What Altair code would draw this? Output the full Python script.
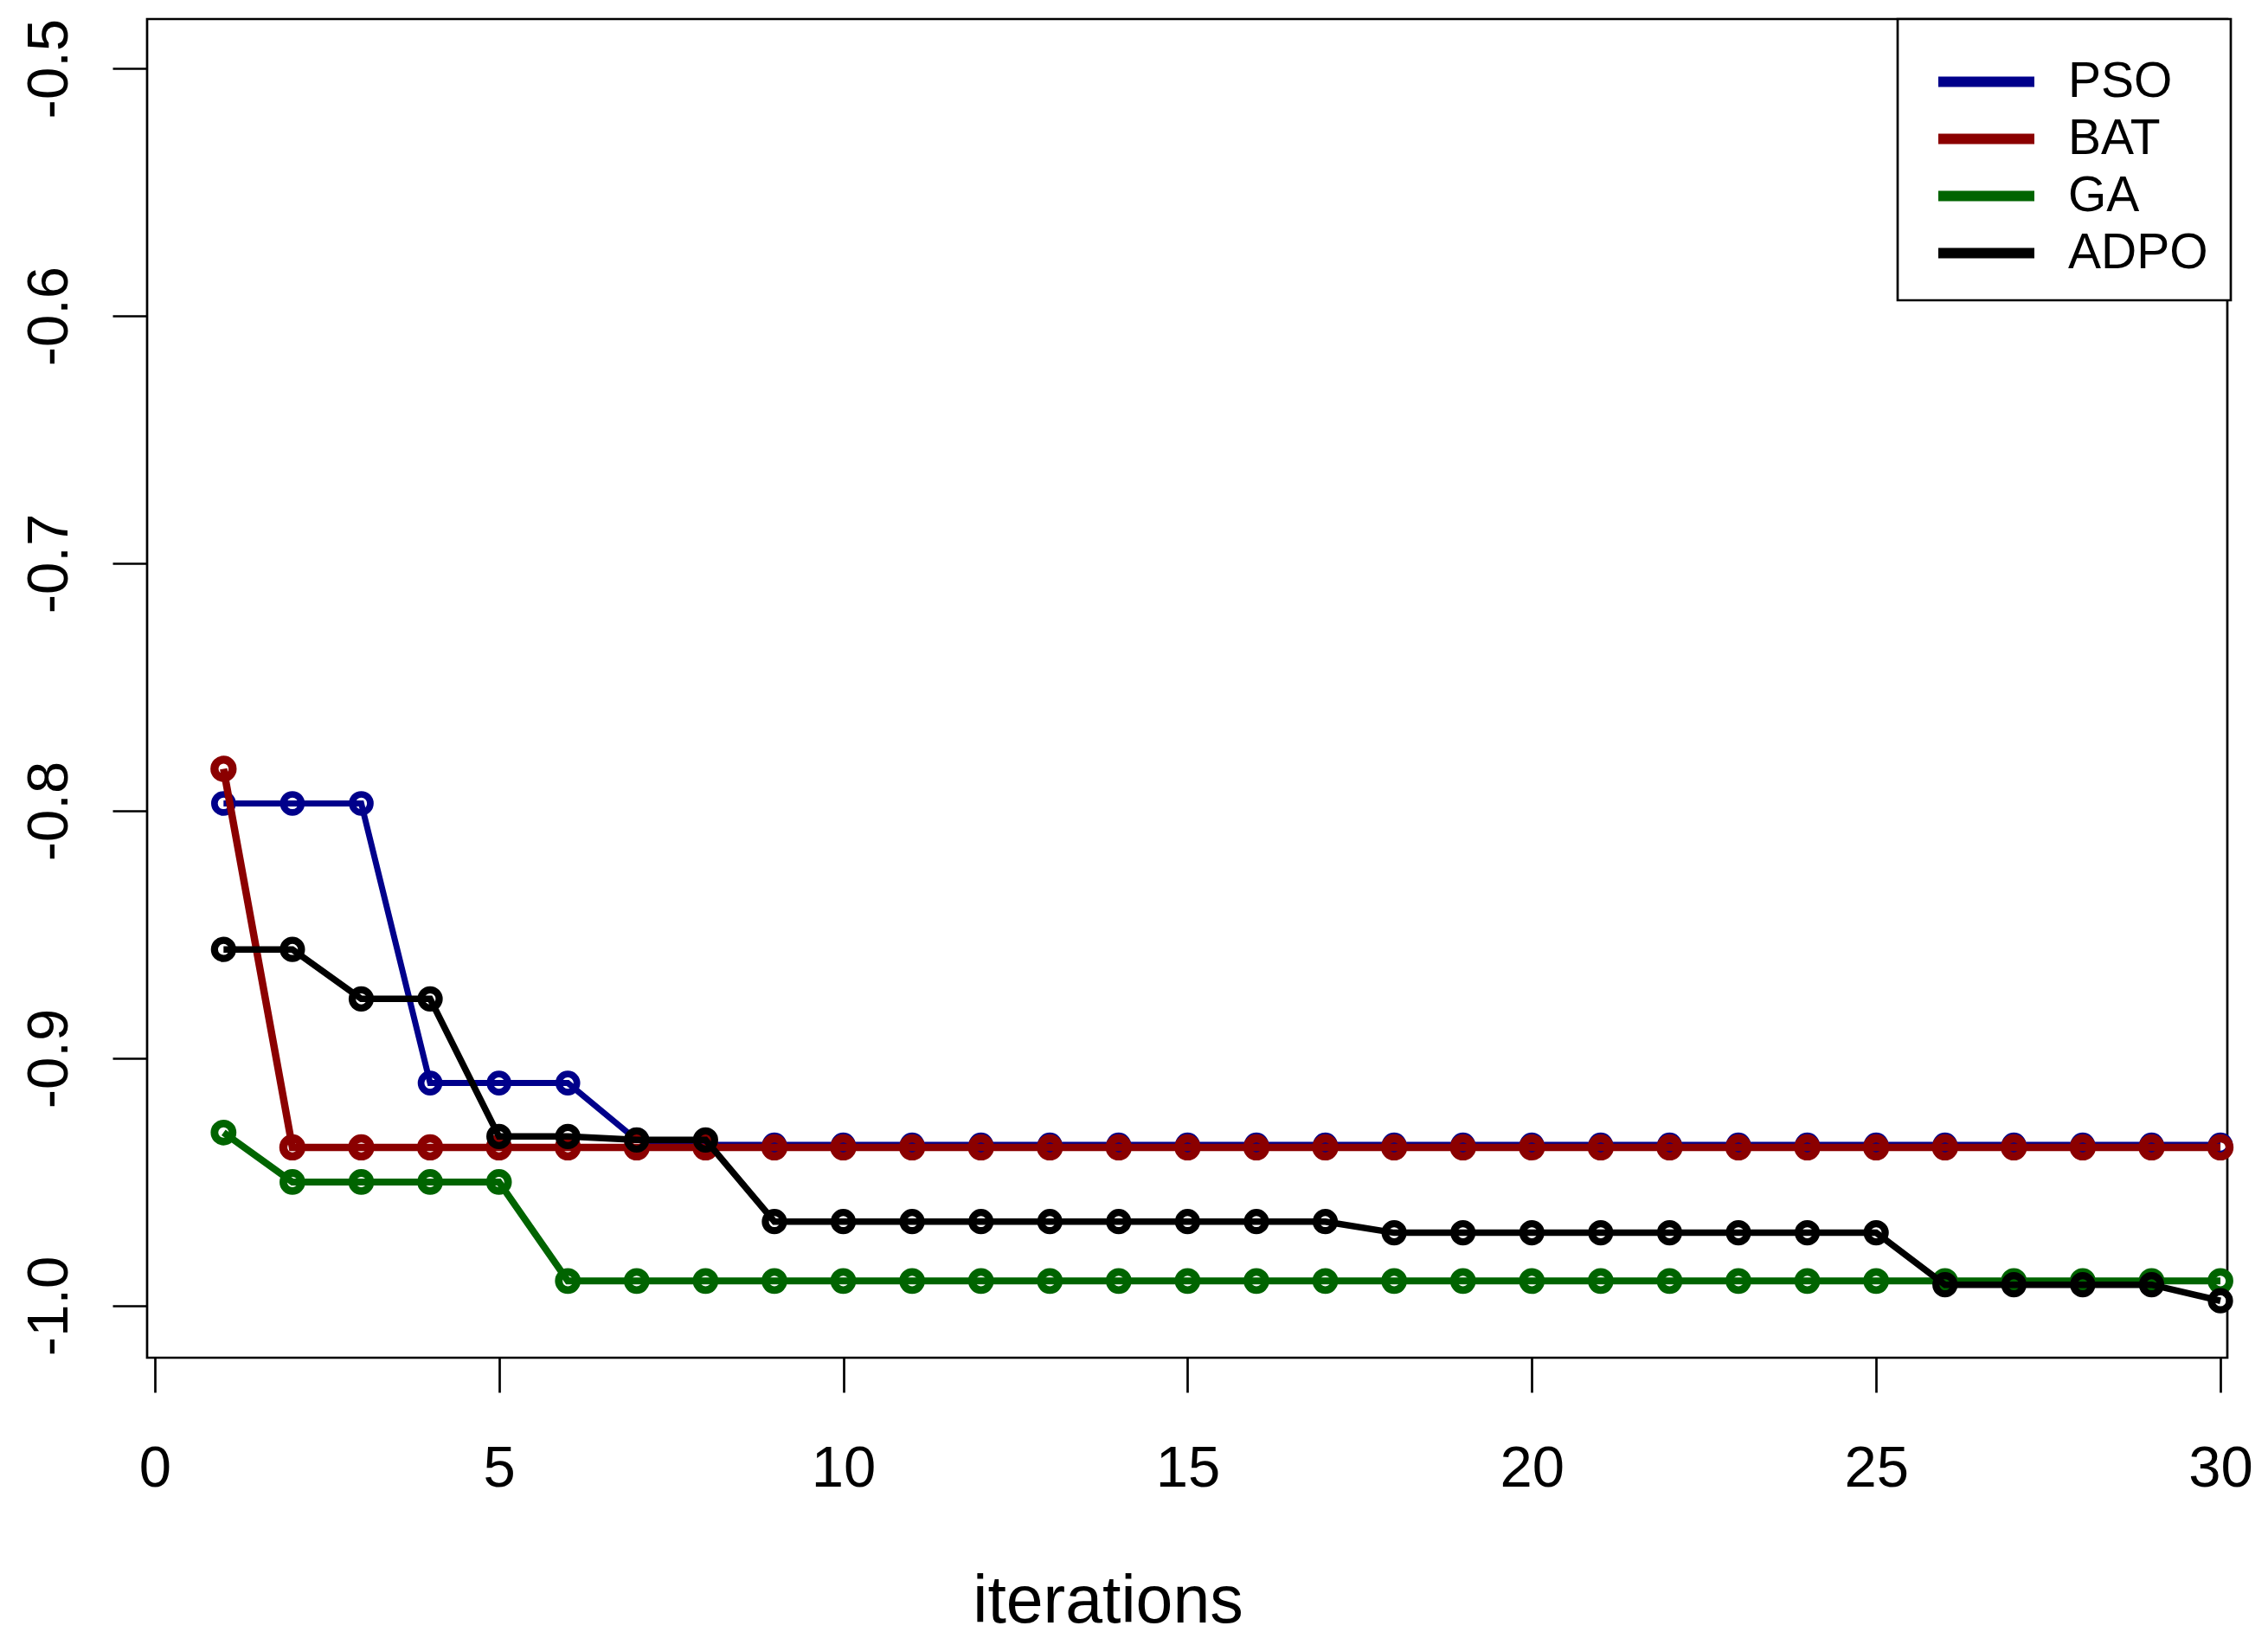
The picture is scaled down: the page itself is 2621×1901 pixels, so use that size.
import altair as alt
import pandas as pd

iterations = list(range(1, 31))
algorithms = ["PSO", "BAT", "GA", "ADPO"]
colors = ["#00008B", "#8B0000", "#006400", "#000000"]
line_widths = [7, 8.5, 8, 7.5]

pso = [-0.797, -0.797, -0.797, -0.910, -0.910, -0.910, -0.933, -0.935, -0.935, -0.935,
       -0.935, -0.935, -0.935, -0.935, -0.935, -0.935, -0.935, -0.935, -0.935, -0.935,
       -0.935, -0.935, -0.935, -0.935, -0.935, -0.935, -0.935, -0.935, -0.935, -0.935]
bat = [-0.783, -0.936, -0.936, -0.936, -0.936, -0.936, -0.936, -0.936, -0.936, -0.936,
       -0.936, -0.936, -0.936, -0.936, -0.936, -0.936, -0.936, -0.936, -0.936, -0.936,
       -0.936, -0.936, -0.936, -0.936, -0.936, -0.936, -0.936, -0.936, -0.936, -0.936]
ga = [-0.930, -0.950, -0.950, -0.950, -0.950, -0.990, -0.990, -0.990, -0.990, -0.990,
      -0.990, -0.990, -0.990, -0.990, -0.990, -0.990, -0.990, -0.990, -0.990, -0.990,
      -0.990, -0.990, -0.990, -0.990, -0.990, -0.990, -0.990, -0.990, -0.990, -0.990]
adpo = [-0.856, -0.856, -0.876, -0.876, -0.9316, -0.9316, -0.933, -0.933, -0.966, -0.966,
        -0.966, -0.966, -0.966, -0.966, -0.966, -0.966, -0.966, -0.9705, -0.9705, -0.9705,
        -0.9705, -0.9705, -0.9705, -0.9705, -0.9705, -0.9915, -0.9915, -0.9915, -0.9915, -0.998]

x_ticks = [0, 5, 10, 15, 20, 25, 30]
y_ticks = [-1.0, -0.9, -0.8, -0.7, -0.6, -0.5]

series = {"PSO": pso, "BAT": bat, "GA": ga, "ADPO": adpo}
rows = []
for name in algorithms:
    for it, v in zip(iterations, series[name]):
        rows.append({"iteration": it, "value": v, "algorithm": name})
df = pd.DataFrame(rows)

FONT = "Liberation Sans"

x_enc = alt.X(
    "iteration:Q",
    scale=alt.Scale(domain=[-0.11, 30.1], nice=False, zero=False),
    axis=alt.Axis(
        values=x_ticks, title="iterations", grid=False, domain=False,
        tickSize=40, tickWidth=2.7, tickColor="black",
        labelFont=FONT, labelFontSize=67, labelColor="black",
        labelBaseline="alphabetic", labelPadding=108, labelFlush=False,
        labelOverlap=False,
        titleFont=FONT, titleFontSize=77, titleFontWeight="normal",
        titleColor="black", titleX=1110, titleY=305,
        titleBaseline="alphabetic", titleAlign="center",
    ),
)
y_enc = alt.Y(
    "value:Q",
    scale=alt.Scale(domain=[-1.021, -0.480], nice=False, zero=False),
    axis=alt.Axis(
        values=y_ticks, title=None, grid=False, domain=False,
        tickSize=40, tickWidth=2.7, tickColor="black",
        labelFont=FONT, labelFontSize=67, labelColor="black",
        labelAngle=270, labelAlign="center", labelBaseline="alphabetic",
        labelPadding=53, labelOverlap=False,
        labelExpr="datum.value < 0 ? '-' + format(-datum.value, '.1f') : format(datum.value, '.1f')",
    ),
)

color_enc = alt.Color(
    "algorithm:N",
    scale=alt.Scale(domain=algorithms, range=colors),
    sort=algorithms,
    legend=alt.Legend(
        title=" ", titleOrient="top", titleFontSize=1, titlePadding=17,
        orient="none", legendX=2023, legendY=0,
        padding=26, rowPadding=8,
        symbolType="M-3,0H3", symbolSize=1369, symbolStrokeWidth=12,
        symbolOffset=48, labelOffset=66, labelLimit=600,
        labelFont=FONT, labelFontSize=57, labelColor="black",
        strokeColor="black", fillColor="white",
    ),
)

layers = []
for name, w in zip(algorithms, line_widths):
    base = alt.Chart(df).transform_filter(alt.datum.algorithm == name)
    line = base.mark_line(strokeWidth=w).encode(x=x_enc, y=y_enc, color=color_enc)
    pts = base.mark_point(shape="circle", filled=False, size=440, strokeWidth=w * 1.1, opacity=1).encode(
        x=x_enc, y=y_enc, color=color_enc
    )
    layers.extend([line, pts])

chart = alt.layer(*layers).properties(
    width=2404, height=1547,
    autosize=alt.AutoSizeParams(type="none"),
    padding={"left": 162, "top": 14, "right": 39, "bottom": 324},
    background="white",
).configure_view(stroke="black", strokeWidth=2.7).configure_legend(strokeWidth=2.7)

chart.save("out.html", embed_options={"renderer": "svg", "actions": False})
